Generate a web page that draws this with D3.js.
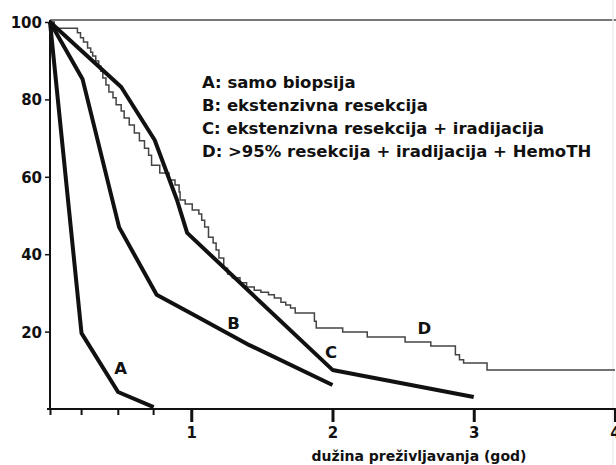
<!DOCTYPE html>
<html>
<head>
<meta charset="utf-8">
<script src="https://cdn.jsdelivr.net/npm/d3@7"></script>
<style>
  body { margin: 0; background: #fff; }
  svg text { font-family: "DejaVu Sans", "Liberation Sans", Arial, sans-serif; font-weight: bold; fill: #111; }
</style>
</head>
<body>
<div id="myChart"></div>
<script>
// survival curves, time in years, value in %
const curveA = [[0, 100], [0.223, 19.6], [0.482, 4.4], [0.734, 0.5]];
const curveB = [[0, 100], [0.23, 85.3], [0.489, 47.0], [0.755, 29.5], [1.02, 24.3], [1.412, 16.5], [2.0, 6.2]];
const curveC = [[0, 100], [0.504, 83.2], [0.741, 69.5], [0.899, 54.0], [0.971, 45.5], [2.0, 10.1], [3.0, 3.1]];
// Kaplan-Meier step curve D: [time, value from that time on]
const curveD = [
  [0, 100], [0.03, 98.4], [0.194, 97.2], [0.216, 95.9], [0.237, 94.8], [0.266, 93.3], [0.288, 92.2],
  [0.302, 91.2], [0.324, 89.9], [0.345, 88.6], [0.36, 87.3], [0.374, 85.5], [0.396, 83.7], [0.417, 81.9],
  [0.446, 80.4], [0.468, 78.6], [0.504, 77.0], [0.525, 75.2], [0.561, 73.4], [0.597, 71.3], [0.633, 69.3],
  [0.669, 67.4], [0.698, 65.6], [0.719, 63.0], [0.777, 61.0], [0.842, 59.2], [0.885, 57.9], [0.914, 56.1],
  [0.921, 54.0], [0.957, 53.0], [1.007, 51.4], [1.054, 50.4], [1.074, 48.8], [1.095, 47.0], [1.122, 44.4],
  [1.155, 42.9], [1.176, 41.1], [1.196, 39.0], [1.23, 36.4], [1.257, 34.9], [1.291, 33.9], [1.345, 32.6],
  [1.392, 31.5], [1.446, 30.7], [1.493, 30.2], [1.547, 29.5], [1.588, 28.7], [1.635, 27.6], [1.669, 26.9],
  [1.703, 26.1], [1.736, 24.8], [1.872, 22.7], [1.885, 20.9], [2.072, 19.9], [2.246, 18.6], [2.514, 17.3],
  [2.696, 16.3], [2.87, 14.0], [2.899, 12.7], [2.928, 11.9], [3.094, 10.1], [4.0, 10.1]
];
// curve labels: [letter, time, value]
const curveLabels = [["A", 0.5, 10.6], ["B", 1.3, 22.2], ["C", 1.99, 14.7], ["D", 2.65, 20.9]];
const legendLines = [
  "A: samo biopsija",
  "B: ekstenzivna resekcija",
  "C: ekstenzivna resekcija + iradijacija",
  "D: >95% resekcija + iradijacija + HemoTH"
];
const yTicks = [20, 40, 60, 80, 100];
const xTicks = [1, 2, 3, 4];
const minorTicks = [0, 0.22, 0.48, 0.73];
const xTitle = "dužina preživljavanja (god)";

const w = 616;
const h = 465;

const x = d3.scaleLinear().domain([0, 4]).range([50, 615]);
const y = d3.scaleLinear().domain([0, 100]).range([409, 22]);

const svg = d3.select("#myChart")
  .append("svg")
  .attr("width", w)
  .attr("height", h)
  .style("background-color", "#fff");

// frame: top line and faint right edge
svg.append("line")
  .attr("x1", x(0)).attr("x2", w)
  .attr("y1", y(100) - 2).attr("y2", y(100) - 2)
  .attr("stroke", "#777").attr("stroke-width", 2);
svg.append("line")
  .attr("x1", 613).attr("x2", 613)
  .attr("y1", 0).attr("y2", h)
  .attr("stroke", "#eee").attr("stroke-width", 1.5);

// y axis
const yAxis = d3.axisLeft(y).tickValues(yTicks).tickSize(5).tickPadding(3).tickSizeOuter(0);
const gy = svg.append("g")
  .attr("id", "y-axis")
  .attr("transform", "translate(" + x(0) + ",0)")
  .call(yAxis);
gy.select(".domain").remove();
gy.selectAll("line").attr("stroke", "#111").attr("stroke-width", 1.5);
gy.selectAll("text").style("font-size", "15px").attr("dy", "0.36em");
svg.append("line")
  .attr("x1", x(0)).attr("x2", x(0))
  .attr("y1", y(0)).attr("y2", y(100) - 2)
  .attr("stroke", "#111").attr("stroke-width", 2);

// x axis
const xAxis = d3.axisBottom(x).tickValues(xTicks).tickSize(13).tickPadding(5).tickFormat(d3.format("d"));
const gx = svg.append("g")
  .attr("id", "x-axis")
  .attr("transform", "translate(0," + y(0) + ")")
  .call(xAxis);
gx.select(".domain").remove();
gx.selectAll("line").attr("stroke", "#111").attr("stroke-width", 3);
gx.selectAll("text").style("font-size", "15px");

const gm = svg.append("g")
  .attr("transform", "translate(0," + y(0) + ")")
  .call(d3.axisBottom(x).tickValues(minorTicks).tickSize(6).tickFormat(""));
gm.select(".domain").remove();
gm.selectAll("line").attr("stroke", "#111").attr("stroke-width", 2);

svg.append("line")
  .attr("x1", x(0) - 3).attr("x2", w)
  .attr("y1", y(0)).attr("y2", y(0))
  .attr("stroke", "#111").attr("stroke-width", 2);

svg.append("text")
  .attr("x", 419)
  .attr("y", 461)
  .attr("text-anchor", "middle")
  .style("font-size", "14px")
  .text(xTitle);

// curves
const line = d3.line().x((d) => x(d[0])).y((d) => y(d[1]));
const stepLine = d3.line().x((d) => x(d[0])).y((d) => y(d[1])).curve(d3.curveStepAfter);

svg.append("path")
  .datum(curveD)
  .attr("d", stepLine)
  .attr("fill", "none")
  .attr("stroke", "#444")
  .attr("stroke-width", 1.5);

[curveA, curveB, curveC].forEach((c) => {
  svg.append("path")
    .datum(c)
    .attr("d", line)
    .attr("fill", "none")
    .attr("stroke", "#111")
    .attr("stroke-width", 4)
    .attr("stroke-linejoin", "round");
});

svg.selectAll(".clabel")
  .data(curveLabels)
  .enter()
  .append("text")
  .attr("class", "clabel")
  .attr("x", (d) => x(d[1]))
  .attr("y", (d) => y(d[2]))
  .attr("text-anchor", "middle")
  .attr("dy", "0.36em")
  .style("font-size", "16.5px")
  .text((d) => d[0]);

// legend
svg.append("g")
  .attr("id", "legend")
  .selectAll("text")
  .data(legendLines)
  .enter()
  .append("text")
  .attr("x", 202)
  .attr("y", (d, i) => 88 + i * 23)
  .style("font-size", "16.5px")
  .text((d) => d);
</script>
</body>
</html>
